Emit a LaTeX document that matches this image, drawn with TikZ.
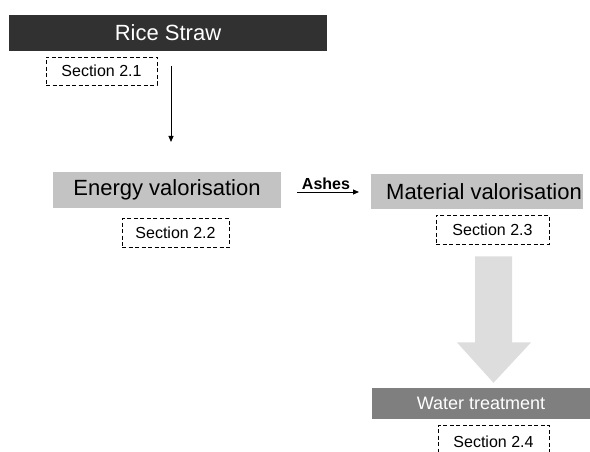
\documentclass[tikz,border=0pt]{standalone}
\usepackage{fontspec}
\setmainfont{Liberation Sans}
\usetikzlibrary{positioning, calc, arrows.meta}

\definecolor{strawdark}{HTML}{313131}
\definecolor{stagegray}{HTML}{C3C3C3}
\definecolor{watergray}{HTML}{7F7F7F}
\definecolor{flowgray}{HTML}{DDDDDD}

\tikzset{
    stage/.style={fill=stagegray, inner sep=0pt, minimum height=36pt,
        font=\fontsize{22}{24}\selectfont},
    sectionbox/.style={draw, line width=0.9pt, dash pattern=on 4pt off 2.5pt,
        inner sep=0pt, minimum height=29pt, font=\fontsize{16}{18}\selectfont},
    thinarrow/.style={-{Triangle[length=6pt, width=5pt]}, line width=0.8pt}
}

\begin{document}
\begin{tikzpicture}[x=1pt, y=-1pt]
        \useasboundingbox (0,0) rectangle (590,452);

        \node[stage, fill=strawdark, text=white, minimum width=318pt] (straw) at (168,33) {Rice Straw};
        \node[sectionbox, minimum width=111pt, minimum height=28pt] (sec21) at (101.5,71) {Section 2.1};

        \node[stage, minimum width=228pt] (energy) at (167,190) {Energy valorisation};
        \node[sectionbox, minimum width=107pt, below=10pt of energy, xshift=8.5pt] (sec22) {Section 2.2};

        \node[stage, minimum width=212pt, minimum height=35pt] (material) at (477,191.5) {\hspace*{14pt}Material valorisation};
        \node[sectionbox, minimum width=113pt] (sec23) at (492.5,229.5) {Section 2.3};

        \node[stage, fill=watergray, text=white, minimum width=218pt, minimum height=31pt,
            font=\fontsize{18}{20}\selectfont] (water) at (481,403.5) {Water treatment};
        \node[sectionbox, minimum width=111pt, minimum height=34pt] (sec24) at (493.5,442) {Section 2.4};

        % straw -> energy
        \coordinate (drop top) at (171,66);
        \coordinate (drop end) at (171,142);
        \draw[thinarrow] (drop top) -- (drop end);

        % ashes
        \coordinate (ash start) at (297,192);
        \coordinate (ash end) at (359,192);
        \draw[thinarrow] (ash start) -- node[above, font=\bfseries\fontsize{16}{18}\selectfont, inner sep=2pt, xshift=-2pt] {Ashes} (ash end);

        % material -> water
        \fill[flowgray] ($(sec23.south)+(-17.5,12)$) -- ($(sec23.south)+(19.5,12)$)
            -- ($(sec23.south)+(19.5,98)$) -- ($(sec23.south)+(38.5,98)$)
            -- ($(water.north)+(12.5,-5)$) -- ($(sec23.south)+(-35.5,98)$)
            -- ($(sec23.south)+(-17.5,98)$) -- cycle;
    \end{tikzpicture}
\end{document}
